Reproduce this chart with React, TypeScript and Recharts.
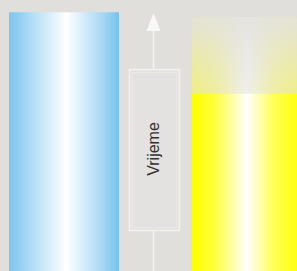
import { Bar, BarChart, Cell, Customized, XAxis, YAxis } from "recharts"

const categories = ["Prije", "Poslije"]
const solidValues = [95.5, 65.5]
const fadedValues = [0, 28]
const axisLabel = "Vrijeme"

const BG = "#e0dfdc"

const data = categories.map((name, i) => ({ name, solid: solidValues[i], faded: fadedValues[i] }))

const FadedShape = (props: any) => {
  const { x, y, width, height } = props
  if (!height || height <= 0) return null
  return (
    <g>
      <rect x={x} y={y} width={width} height={height} fill="url(#yellowGrad)" fillOpacity={0.6} />
      <rect x={x} y={y} width={width} height={height} fill="url(#fadeGrad)" />
    </g>
  )
}

// arrow + label box sit between the two bars
const TimeArrow = () => {
  const cx = 181.5
  return (
    <g>
      <line x1={cx} y1={30} x2={cx} y2={69} stroke="#f3f3f2" strokeWidth={1.6} />
      <line x1={cx} y1={231} x2={cx} y2={275} stroke="#f3f3f2" strokeWidth={1.6} />
      <polygon points={`${cx},13 ${cx - 7},31 ${cx + 7},31`} fill="#f8f8f8" />
      <rect x={157.5} y={69.5} width={50} height={161} fill="#e3e2e0" stroke="#f1f1f0" strokeWidth={1.5} />
      <rect x={160.5} y={72.5} width={44} height={155} fill="none" stroke="#e9e9e8" strokeWidth={1} />
      <text
        x={cx}
        y={149}
        transform={`rotate(-90 ${cx} 149)`}
        textAnchor="middle"
        dominantBaseline="central"
        fontFamily="Liberation Sans, Arial, sans-serif"
        fontSize={16}
        fill="#333"
      >
        {axisLabel}
      </text>
    </g>
  )
}

export default function App() {
  return (
    <div
      style={{
        position: "absolute",
        top: 0,
        left: 0,
        width: 297,
        height: 271,
        overflow: "hidden",
        background: BG,
      }}
    >
      <div style={{ position: "absolute", top: 0, left: -28 }}>
        <BarChart width={366} height={271} data={data} margin={{ top: 0, right: 0, bottom: 0, left: 0 }}>
          <defs>
            <linearGradient id="blueGrad" x1="0" y1="0" x2="1" y2="0">
              <stop offset="0%" stopColor="#7cc5ee" />
              <stop offset="18%" stopColor="#a9daf5" />
              <stop offset="52%" stopColor="#ffffff" />
              <stop offset="85%" stopColor="#a6d8f4" />
              <stop offset="100%" stopColor="#76c2ed" />
            </linearGradient>
            <linearGradient id="yellowGrad" x1="0" y1="0" x2="1" y2="0">
              <stop offset="0%" stopColor="#ffff00" />
              <stop offset="20%" stopColor="#ffff3a" />
              <stop offset="50%" stopColor="#ffffff" />
              <stop offset="75%" stopColor="#ffff50" />
              <stop offset="100%" stopColor="#ffff00" />
            </linearGradient>
            <linearGradient id="fadeGrad" x1="0" y1="0" x2="0" y2="1">
              <stop offset="0%" stopColor="#e3e2df" stopOpacity={0.95} />
              <stop offset="100%" stopColor="#e6e5e2" stopOpacity={0.3} />
            </linearGradient>
          </defs>
          <XAxis dataKey="name" hide />
          <YAxis hide domain={[0, 100]} />
          <Bar dataKey="solid" stackId="t" barSize={110} isAnimationActive={false}>
            {data.map((d, i) => (
              <Cell key={d.name} fill={i === 0 ? "url(#blueGrad)" : "url(#yellowGrad)"} />
            ))}
          </Bar>
          <Bar dataKey="faded" stackId="t" barSize={110} shape={FadedShape} isAnimationActive={false} />
          <Customized component={TimeArrow} />
        </BarChart>
      </div>
    </div>
  )
}
